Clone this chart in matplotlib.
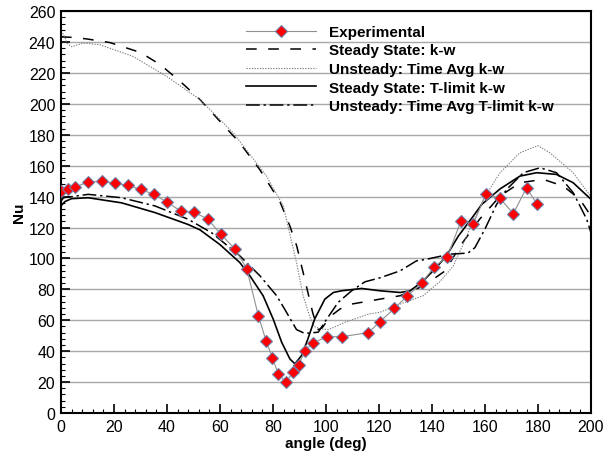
import matplotlib
matplotlib.use('Agg')
import matplotlib.pyplot as plt
from matplotlib.ticker import MultipleLocator

plt.rcParams['font.family'] = ['Liberation Sans', 'DejaVu Sans']

# Experimental data points
exp_deg = [0, 2.8, 5.3, 10.1, 15.6, 20.4, 25.2, 30.1, 35.1, 39.9, 45.3, 50.3, 55.4,
           60.4, 65.7, 70.1, 74.5, 77.4, 79.8, 82, 84.8, 87.7, 89.8, 92.1, 95,
           100.3, 105.9, 116, 120.4, 125.8, 130.7, 136.1, 140.9, 145.8, 150.9,
           155.6, 160.4, 165.7, 170.7, 175.7, 179.7]
exp_nu = [143.6, 145, 146.2, 149.4, 150, 148.6, 147.3, 144.7, 141.5, 136.5, 130.7, 130, 125.4,
          115.7, 106, 93.5, 63, 46.8, 35.7, 25.4, 20, 26.4, 31.4, 40.4, 45.2,
          49.4, 49.4, 52, 59.1, 67.7, 75.7, 84.1, 94.6, 101, 124,
          122.5, 141.7, 138.9, 129, 145.8, 135]

# Steady State: k-w
kw_deg = [0, 5, 10, 18.5, 30, 37.5, 45, 52.5, 60, 67.5, 75, 82.6, 86.4, 89, 92, 95, 97,
          98.5, 102, 105.3, 109.7, 114.7, 120.4, 128, 135.5, 140, 145, 150.6, 158,
          165.7, 173.2, 182, 189.6, 195.8, 200]
kw_nu = [243.4, 243, 242, 239.7, 233.3, 225.4, 214.6, 202.8, 188.8, 174.8, 157.6, 137, 121,
         108, 86.6, 65, 54, 55, 63, 67.3, 70.5, 72, 73.7, 75.9, 81.3, 86, 92, 108, 125.4,
         140.4, 149, 151.2, 146.8, 138.3, 127.5]

# Unsteady: Time Avg k-w
ukw_deg = [0, 1, 2.5, 4, 8.4, 14.7, 27.3, 39.9, 52.5, 65, 77.6, 83.9, 88.9, 91.4, 94, 95.5,
           98, 101, 107.2, 116, 120.4, 128, 136.7, 143, 148, 152, 156, 160, 165.7, 173.2,
           177, 180, 184.5, 193.3, 200]
ukw_nu = [247, 245, 239, 237, 239.4, 238.3, 230.7, 217.8, 202.8, 181.3, 153.3, 134, 97.4,
          75.9, 62, 56, 54.5, 54, 58.7, 64, 65.2, 70.5, 75.9, 85, 95, 110, 126, 140, 155.5,
          168.4, 171, 173, 168.4, 155.5, 140]

# Steady State: T-limit k-w
tl_deg = [0, 1.5, 4, 10.3, 22.9, 35.5, 48, 52.5, 60, 67.5, 71.3, 76.3, 80.1, 83.3, 86.4,
          88.3, 90.8, 93, 95.8, 99.6, 102.8, 105.9, 113.5, 120.4, 128, 131.7, 136.7, 141,
          145.5, 150, 155, 158.8, 165.7, 173.2, 179.5, 187, 193.3, 200]
tl_nu = [134, 136.8, 138.7, 139.3, 136, 129.7, 122, 118.5, 109, 97.4, 88.8, 75.9, 60.8, 45.8,
         35, 31.8, 37.2, 47, 61, 73.7, 78, 79.1, 80.6, 79.1, 78, 79, 85.5, 93,
         101.7, 114.6, 126, 135, 145, 153.3, 155.5, 154.4, 149, 138.3]

# Unsteady: Time Avg T-limit k-w
utl_deg = [0, 1, 10.3, 22.9, 35.5, 48, 57, 67.5, 75.1, 81.4, 84.5, 88.9, 92, 95.2, 97.1, 100,
           104.6, 109.7, 114.7, 120.4, 128, 134.2, 138, 146.8, 153.6, 156.2, 160, 164.4,
           168.2, 174.5, 180.8, 187, 193.3, 198.4, 200]
utl_nu = [137, 139.3, 141.5, 139.3, 134, 125.4, 116.5, 101.7, 88.8, 75.9, 67, 54, 51.5, 52,
          52.3, 60, 71.6, 79.1, 84.9, 87.5, 92, 98.5, 99.5, 102.8, 103.5, 107, 119, 135,
          144.7, 155.5, 158.7, 155.5, 142.6, 125.4, 116.8]

fig = plt.figure(figsize=(6.03, 4.52), dpi=100)
ax = fig.add_axes([0.101, 0.084, 0.879, 0.889])

ax.plot(exp_deg, exp_nu, color='#909090', lw=0.8, marker='D', markersize=6.3,
        markerfacecolor='red', markeredgecolor='#7080a8', markeredgewidth=0.8,
        label='Experimental', zorder=5)
ax.plot(kw_deg, kw_nu, color='black', lw=1.1, linestyle=(0, (7, 7.5)),
        label='Steady State: k-w')
ax.plot(ukw_deg, ukw_nu, color='#808080', lw=0.8, linestyle=(0, (1.2, 1.2)),
        label='Unsteady: Time Avg k-w')
ax.plot(tl_deg, tl_nu, color='black', lw=1.2, label='Steady State: T-limit k-w')
ax.plot(utl_deg, utl_nu, color='black', lw=1.1, linestyle=(0, (9, 2.5, 1.5, 2.5)),
        label='Unsteady: Time Avg T-limit k-w')

ax.set_xlim(0, 200)
ax.set_ylim(0, 260)
ax.xaxis.set_major_locator(MultipleLocator(20))
ax.xaxis.set_minor_locator(MultipleLocator(4))
ax.yaxis.set_major_locator(MultipleLocator(20))
ax.yaxis.set_minor_locator(MultipleLocator(4))
ax.tick_params(which='both', direction='in', top=False, right=False, labelsize=11.5)
ax.tick_params(which='major', length=6.5, width=1.2, pad=4)
ax.tick_params(which='minor', length=3, width=0.8)
ax.grid(axis='y', which='major', color='#a8a8a8', lw=1.0)
ax.set_axisbelow(True)
for s in ax.spines.values():
    s.set_linewidth(1.5)

ax.set_xlabel('angle (deg)', fontsize=11, fontweight='bold', labelpad=2)
ax.set_ylabel('Nu', fontsize=11, fontweight='bold', labelpad=2)

ax.legend(loc='upper left', bbox_to_anchor=(0.349, 0.966), frameon=False,
          prop={'size': 11, 'weight': 'bold'}, handlelength=4.6, handletextpad=0.85,
          labelspacing=0.3, borderpad=0, borderaxespad=0)

fig.savefig('out.png', dpi=100)
